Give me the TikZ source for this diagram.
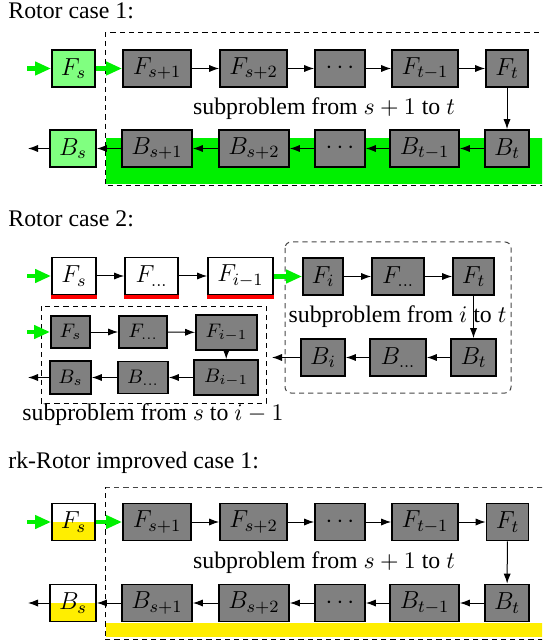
\RequirePackage{fix-cm}
\documentclass[tikz,border=0pt]{standalone}
\usepackage{fontspec}
\setmainfont{Liberation Serif}
\usetikzlibrary{arrows.meta}
\definecolor{gfill}{RGB}{0,240,0}
\definecolor{lgreen}{RGB}{128,255,128}
\definecolor{yel}{RGB}{255,238,0}
\definecolor{ngray}{RGB}{128,128,128}
\definecolor{dgray}{RGB}{70,70,70}
\tikzset{
  blk/.style={draw=black, line width=0.9pt, fill=ngray, inner sep=0pt, minimum height=18.5pt, font=\fontsize{12.3}{15}\selectfont},
  sblk/.style={blk, font=\fontsize{9.8}{11}\selectfont},
  wblk/.style={blk, fill=white},
  lgblk/.style={blk, fill=lgreen},
  yblk/.style={blk, fill=white, path picture={\fill[yel] (path picture bounding box.west) rectangle (path picture bounding box.south east);}},
  arr/.style={line width=0.5pt, -{Latex[length=5pt,width=3.6pt]}},
  garr/.style={gfill, line width=2.2pt, -{Triangle[length=8pt,width=6.5pt]}},
  dbox/.style={dashed, dash pattern=on 2.6pt off 2pt, line width=0.5pt},
  redline/.style={red, line width=2pt},
  title/.style={anchor=base west, inner sep=0pt},
  sub/.style={anchor=base, inner sep=0pt},
}
\begin{document}
\begin{tikzpicture}[x=0.5pt, y=-0.5pt, font=\fontsize{11.9}{14}\selectfont]
\useasboundingbox (0,0) rectangle (542,641);
\clip (0,0) rectangle (542,641);

% ---------------- Rotor case 1 ----------------
\node[title] (t1) at (8,18.3) {Rotor case 1:};
\fill[gfill] (106,138) rectangle (545,184);
\draw[dbox] (548,33) -- (105,33) -- (105,185.5) -- (548,185.5);

\node[lgblk, minimum width=21.5pt] (aFs)  at (73.5,68.5) {$F_s$};
\node[blk, minimum width=34pt]   (aFs1) at (157,68.5)   {$F_{s+1}$};
\node[blk, minimum width=33.5pt] (aFs2) at (253.5,68.5) {$F_{s+2}$};
\node[blk, minimum width=25pt]   (aFd)  at (340,68.5)   {$\cdots$};
\node[blk, minimum width=33pt]   (aFt1) at (425,68.5)   {$F_{t-1}$};
\node[blk, minimum width=21pt]   (aFt)  at (507,68.5)   {$F_t$};

\node[lgblk, minimum width=23pt] (aBs)  at (73,148.5)   {$B_s$};
\node[blk, minimum width=35pt]   (aBs1) at (157,148.5)  {$B_{s+1}$};
\node[blk, minimum width=35pt]   (aBs2) at (254,148.5)  {$B_{s+2}$};
\node[blk, minimum width=25pt]   (aBd)  at (340,148.5)  {$\cdots$};
\node[blk, minimum width=34.5pt] (aBt1) at (424.5,148.5){$B_{t-1}$};
\node[blk, minimum width=22pt]   (aBt)  at (507,148.5)  {$B_t$};

\node[sub] (s1) at (324,115) {subproblem from $s+1$ to $t$};

\coordinate (aIn) at (27,68.5);
\coordinate (aOut) at (28,148.5);
\draw[garr] (aIn) -- (aFs);
\draw[garr] (aFs) -- (aFs1);
\draw[arr] (aFs1) -- (aFs2);
\draw[arr] (aFs2) -- (aFd);
\draw[arr] (aFd) -- (aFt1);
\draw[arr] (aFt1) -- (aFt);
\draw[arr] (aFt) -- (aBt);
\draw[arr] (aBt) -- (aBt1);
\draw[arr] (aBt1) -- (aBd);
\draw[arr] (aBd) -- (aBs2);
\draw[arr] (aBs2) -- (aBs1);
\draw[arr] (aBs1) -- (aBs);
\draw[arr] (aBs) -- (aOut);

% ---------------- Rotor case 2 ----------------
\node[title] (t2) at (8,226.7) {Rotor case 2:};
\draw[dbox, dgray, rounded corners=3pt] (285,242) rectangle (511,393);
\draw[dbox] (41,306) rectangle (266,403);

\node[wblk, minimum width=22pt]   (bFs)  at (74,276)    {$F_s$};
\node[wblk, minimum width=26.5pt] (bFd)  at (151.5,276) {$F_{\dots}$};
\node[wblk, minimum width=32.5pt] (bFi1) at (240.5,276) {$F_{i-1}$};
\draw[redline] ([yshift=-0.8pt]bFs.south west) -- ([yshift=-0.8pt]bFs.south east);
\draw[redline] ([yshift=-0.8pt]bFd.south west) -- ([yshift=-0.8pt]bFd.south east);
\draw[redline] ([yshift=-0.8pt]bFi1.south west) -- ([yshift=-0.8pt]bFi1.south east);

\node[blk, minimum width=20pt]   (bFi)  at (323,276.5)  {$F_i$};
\node[blk, minimum width=26pt]   (bFd2) at (398,276.5)  {$F_{\dots}$};
\node[blk, minimum width=20.5pt] (bFt)  at (473.5,276.5){$F_t$};
\node[blk, minimum width=22.5pt] (bBt)  at (473.5,357.5){$B_t$};
\node[blk, minimum width=28pt]   (bBd2) at (398,357.5)  {$B_{\dots}$};
\node[blk, minimum width=22pt]   (bBi)  at (323,357.5)  {$B_i$};

\node[sub] (s2) at (397.5,322) {subproblem from $i$ to $t$};

\node[sblk, minimum width=19.5pt, minimum height=16pt]   (cFs)  at (70.5,332)   {$F_s$};
\node[sblk, minimum width=24pt, minimum height=16pt]     (cFd)  at (143,332)    {$F_{\dots}$};
\node[sblk, minimum width=30.5pt, minimum height=17.5pt] (cFi1) at (226.5,332.5){$F_{i-1}$};
\node[sblk, minimum width=32pt, minimum height=17.5pt]   (cBi1) at (226,377.5)  {$B_{i-1}$};
\node[sblk, minimum width=25pt, minimum height=16pt]     (cBd)  at (143,377.5)  {$B_{\dots}$};
\node[sblk, minimum width=20.5pt, minimum height=16.5pt] (cBs)  at (70.5,377.5) {$B_s$};

\node[sub] (s3) at (153,420.5) {subproblem from $s$ to $i-1$};

\coordinate (bIn) at (27,276);
\coordinate (bOut) at (272,357.5);
\coordinate (cIn) at (27,332);
\coordinate (cOut) at (28,377.5);
\draw[garr] (bIn) -- (bFs);
\draw[arr] (bFs) -- (bFd);
\draw[arr] (bFd) -- (bFi1);
\draw[garr] (bFi1.east |- bFi) -- (bFi);
\draw[arr] (bFi) -- (bFd2);
\draw[arr] (bFd2) -- (bFt);
\draw[arr] (bFt) -- (bBt);
\draw[arr] (bBt) -- (bBd2);
\draw[arr] (bBd2) -- (bBi);
\draw[arr] (bBi) -- (bOut);

\draw[garr] (cIn) -- (cFs);
\draw[arr] (cFs) -- (cFd);
\draw[arr] (cFd) -- (cFi1);
\draw[arr] (cFi1) -- (cBi1);
\draw[arr] (cBi1) -- (cBd);
\draw[arr] (cBd) -- (cBs);
\draw[arr] (cBs) -- (cOut);

% ---------------- rk-Rotor improved case 1 ----------------
\node[title] (t3) at (8,468.3) {rk-Rotor improved case 1:};
\fill[yel] (106,623) rectangle (545,637);
\draw[dbox, dgray] (105,487) -- (552,487);
\draw[dbox] (552,639.5) -- (105,639.5) -- (105,487);

\node[yblk, minimum width=21.5pt] (dFs)  at (73.5,522) {$F_s$};
\node[blk, minimum width=34pt]    (dFs1) at (157,522)   {$F_{s+1}$};
\node[blk, minimum width=33.5pt]  (dFs2) at (253.5,522) {$F_{s+2}$};
\node[blk, minimum width=25pt]    (dFd)  at (340,522)   {$\cdots$};
\node[blk, minimum width=33pt]    (dFt1) at (425,522)   {$F_{t-1}$};
\node[blk, minimum width=21pt]    (dFt)  at (507.5,522) {$F_t$};

\node[yblk, minimum width=23pt]   (dBs)  at (73,603)    {$B_s$};
\node[blk, minimum width=35pt]    (dBs1) at (157,603)   {$B_{s+1}$};
\node[blk, minimum width=35pt]    (dBs2) at (254,603)   {$B_{s+2}$};
\node[blk, minimum width=25pt]    (dBd)  at (340,603)   {$\cdots$};
\node[blk, minimum width=34.5pt]  (dBt1) at (424.5,603) {$B_{t-1}$};
\node[blk, minimum width=22pt]    (dBt)  at (507,603)   {$B_t$};

\node[sub] (s4) at (324,568) {subproblem from $s+1$ to $t$};

\coordinate (dIn) at (27,522);
\coordinate (dOut) at (28,603);
\draw[garr] (dIn) -- (dFs);
\draw[garr] (dFs) -- (dFs1);
\draw[arr] (dFs1) -- (dFs2);
\draw[arr] (dFs2) -- (dFd);
\draw[arr] (dFd) -- (dFt1);
\draw[arr] (dFt1) -- (dFt);
\draw[arr] (dFt) -- (dBt);
\draw[arr] (dBt) -- (dBt1);
\draw[arr] (dBt1) -- (dBd);
\draw[arr] (dBd) -- (dBs2);
\draw[arr] (dBs2) -- (dBs1);
\draw[arr] (dBs1) -- (dBs);
\draw[arr] (dBs) -- (dOut);
\end{tikzpicture}
\end{document}
